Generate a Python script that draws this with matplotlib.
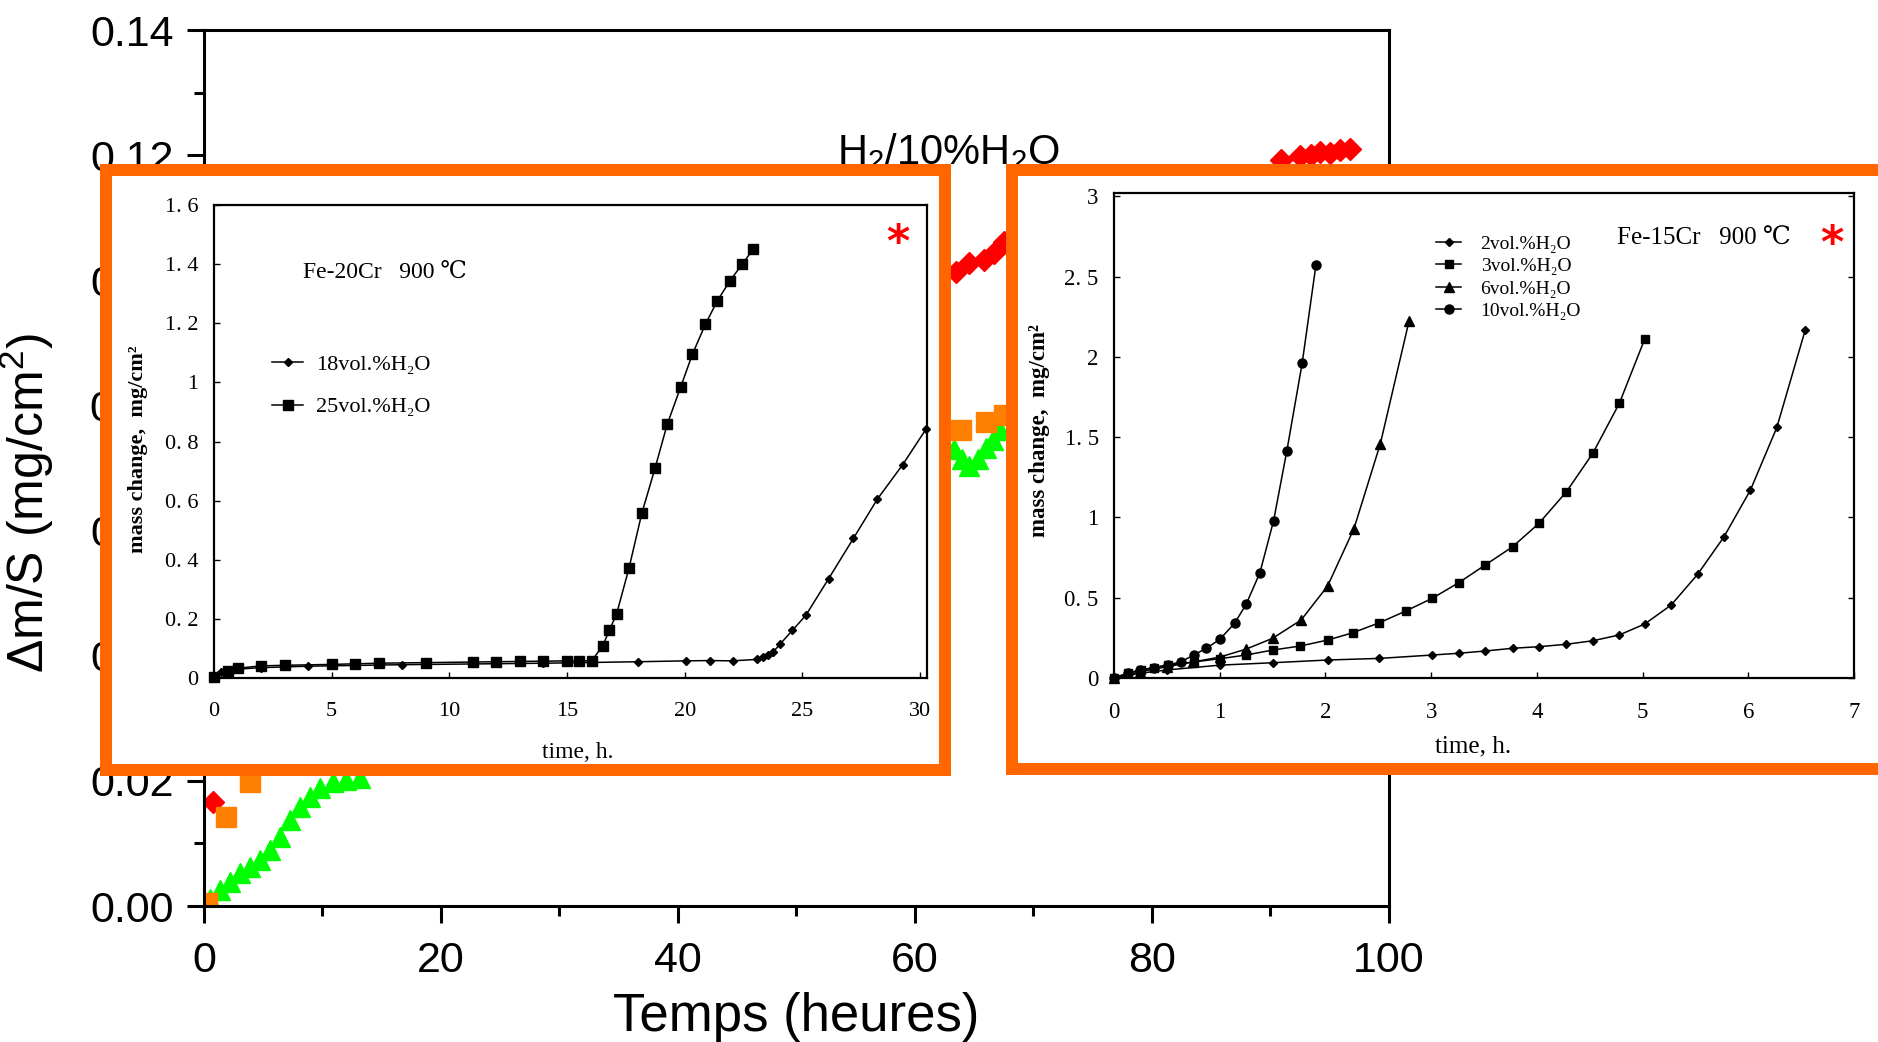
import matplotlib
matplotlib.use("Agg")
import matplotlib.pyplot as plt
from matplotlib.ticker import FixedLocator, MultipleLocator

plt.rcParams['font.family'] = ['Liberation Sans', 'DejaVu Sans']
plt.rcParams['mathtext.fontset'] = 'custom'
plt.rcParams['mathtext.rm'] = 'Liberation Sans'
plt.rcParams['mathtext.it'] = 'Liberation Sans:italic'
plt.rcParams['mathtext.bf'] = 'Liberation Sans:bold'

SERIF = ['Liberation Serif', 'DejaVu Serif', 'DejaVu Sans']

# main chart (only the parts not hidden by the two insets)
red_t = [0.79, 63.5, 64.6, 65.8, 66.7, 67.5, 90.9, 92.5, 93.4, 94.2, 95.0, 95.9, 96.7]
red_m = [0.0167, 0.1014, 0.1027, 0.1033, 0.1043, 0.1061,
         0.1192, 0.1198, 0.1200, 0.1205, 0.1203, 0.1209, 0.1210]
orange_t = [0.28, 1.86, 3.88, 63.9, 66.0, 67.5]
orange_m = [0.0005, 0.0143, 0.0199, 0.0761, 0.0774, 0.0785]
green_t = [0.5, 1.35, 2.2, 3.04, 3.88, 4.73, 5.57, 6.4, 7.26, 8.1, 8.95, 9.8, 10.9, 12.0, 13.2,
           63.3, 64.0, 64.6, 65.3, 66.0, 66.6, 67.2]
green_m = [0.0012, 0.0026, 0.0039, 0.0052, 0.0063, 0.0073, 0.0090, 0.0111, 0.0137, 0.0159,
           0.0175, 0.0188, 0.0199, 0.0201, 0.0204,
           0.0730, 0.0715, 0.0703, 0.0715, 0.0732, 0.0745, 0.0760]
main_xticks = [0, 20, 40, 60, 80, 100]
main_yticks = [0.00, 0.02, 0.04, 0.06, 0.08, 0.10, 0.12, 0.14]
main_ylabels = ['0.00', '0.02', '0.04', '0.06', '0.08', '0.10', '0.12', '0.14']

# left inset: Fe-20Cr 900 C
h18_t = [0, 0.3, 0.6, 1.0, 2.0, 4.0, 8.0, 14.0, 18.03, 20.05, 21.08, 22.04, 23.09, 23.34,
         23.56, 23.77, 24.05, 24.58, 25.15, 26.12, 27.17, 28.19, 29.27, 30.26]
h18_m = [0.0, 0.02, 0.025, 0.03, 0.035, 0.04, 0.045, 0.05, 0.055, 0.058, 0.059, 0.058, 0.063,
         0.07, 0.078, 0.089, 0.114, 0.161, 0.212, 0.336, 0.472, 0.605, 0.722, 0.842]
h25_t = [0, 0.6, 1.0, 2.0, 3.0, 5.0, 6.0, 7.0, 9.0, 11.0, 12.0, 13.0, 14.0, 15.01, 15.52,
         16.05, 16.52, 16.8, 17.11, 17.64, 18.18, 18.74, 19.26, 19.83, 20.33, 20.88, 21.39,
         21.93, 22.44, 22.92]
h25_m = [0.005, 0.025, 0.033, 0.041, 0.043, 0.046, 0.048, 0.05, 0.052, 0.054, 0.055, 0.056,
         0.057, 0.058, 0.058, 0.058, 0.109, 0.161, 0.217, 0.373, 0.557, 0.709, 0.858, 0.984,
         1.095, 1.196, 1.276, 1.344, 1.399, 1.451]
left_xticks = [0, 5, 10, 15, 20, 25, 30]
left_yticks = [0, 0.2, 0.4, 0.6, 0.8, 1.0, 1.2, 1.4, 1.6]
left_ylabels = ['0', '0. 2', '0. 4', '0. 6', '0. 8', '1', '1. 2', '1. 4', '1. 6']

# right inset: Fe-15Cr 900 C
v2_t = [0, 0.25, 0.5, 1.0, 1.5, 2.02, 2.51, 3.01, 3.26, 3.51, 3.77, 4.02, 4.28, 4.53, 4.78,
        5.02, 5.27, 5.52, 5.77, 6.02, 6.27, 6.54]
v2_m = [0, 0.03, 0.05, 0.08, 0.095, 0.112, 0.122, 0.143, 0.154, 0.168, 0.185, 0.195, 0.21,
        0.232, 0.268, 0.336, 0.454, 0.645, 0.879, 1.17, 1.56, 2.17]
v3_t = [0, 0.13, 0.26, 0.38, 0.51, 0.755, 1.0, 1.25, 1.5, 1.76, 2.02, 2.26, 2.51, 2.76, 3.01,
        3.26, 3.51, 3.77, 4.02, 4.28, 4.53, 4.78, 5.02]
v3_m = [0, 0.03, 0.05, 0.065, 0.08, 0.1, 0.12, 0.143, 0.174, 0.199, 0.236, 0.282, 0.344,
        0.417, 0.496, 0.593, 0.703, 0.817, 0.963, 1.16, 1.4, 1.71, 2.11]
v6_t = [0, 0.25, 0.5, 0.75, 1.0, 1.25, 1.5, 1.77, 2.02, 2.27, 2.52, 2.79]
v6_m = [0, 0.04, 0.07, 0.1, 0.13, 0.18, 0.247, 0.361, 0.572, 0.93, 1.46, 2.22]
v10_t = [0, 0.13, 0.25, 0.38, 0.51, 0.63, 0.755, 0.87, 1.0, 1.14, 1.25, 1.38, 1.51, 1.635,
         1.78, 1.91]
v10_m = [0, 0.03, 0.05, 0.065, 0.081, 0.1, 0.143, 0.184, 0.24, 0.34, 0.459, 0.655, 0.98,
         1.414, 1.96, 2.57]
right_xticks = [0, 1, 2, 3, 4, 5, 6, 7]
right_yticks = [0, 0.5, 1.0, 1.5, 2.0, 2.5, 3.0]
right_ylabels = ['0', '0. 5', '1', '1. 5', '2', '2. 5', '3']

fig = plt.figure(figsize=(18.78, 10.42), dpi=100)

# ---- main chart
ax = fig.add_axes([0.1086, 0.1305, 0.6310, 0.8407])
ax.plot(green_t, green_m, ls='none', marker='^', ms=15, color='#00FF00', mec='#00FF00')
ax.plot(red_t, red_m, ls='none', marker='D', ms=11, color='#FF0000', mec='#FF0000')
ax.plot(orange_t, orange_m, ls='none', marker='s', ms=14, color='#FF8000', mec='#FF8000')
ax.set_xlim(0, 100)
ax.set_ylim(0, 0.14)
ax.xaxis.set_major_locator(FixedLocator(main_xticks))
ax.xaxis.set_minor_locator(MultipleLocator(10))
ax.yaxis.set_major_locator(FixedLocator(main_yticks))
ax.set_yticklabels(main_ylabels)
ax.yaxis.set_minor_locator(MultipleLocator(0.01))
ax.tick_params(which='major', direction='out', length=12, width=2.2, labelsize=31, pad=10)
ax.tick_params(axis='x', which='major', pad=13)
ax.tick_params(which='minor', direction='out', length=7, width=2.2)
for sp in ax.spines.values():
    sp.set_linewidth(2.2)
ax.text(62.8, 0.1186, 'H$_2$/10%H$_2$O', fontsize=30, ha='center', va='baseline')
ax.set_xlabel('Temps (heures)', fontsize=38)
ax.xaxis.set_label_coords(0.5, -0.098)
ax.set_ylabel('Δm/S (mg/cm$^2$)', fontsize=36)
ax.yaxis.set_label_coords(-0.125, 0.46)


def orange_frame(rect):
    fr = fig.add_axes(rect)
    fr.set_facecolor('white')
    fr.set_xticks([])
    fr.set_yticks([])
    for sp in fr.spines.values():
        sp.set_color('#FF6600')
        sp.set_linewidth(8.6)
    return fr


def inset_style(a, xpad, ypad, labelsize):
    for sp in a.spines.values():
        sp.set_linewidth(1.6)
    a.tick_params(direction='in', length=4, width=1.0, labelsize=labelsize)
    a.tick_params(axis='x', pad=xpad)
    a.tick_params(axis='y', pad=ypad)
    for lab in a.get_xticklabels() + a.get_yticklabels():
        lab.set_fontfamily(SERIF)


# ---- left inset
orange_frame([0.05644, 0.26104, 0.44649, 0.57582])
ax1 = fig.add_axes([0.11395, 0.34933, 0.37966, 0.45393])
ax1.plot(h18_t, h18_m, color='black', lw=1.1, marker='D', ms=4, clip_on=False,
         label='18vol.%H\u2082O')
ax1.plot(h25_t, h25_m, color='black', lw=1.1, marker='s', ms=6.5, clip_on=False,
         label='25vol.%H\u2082O')
ax1.set_xlim(0, 30.3)
ax1.set_ylim(0, 1.6)
ax1.xaxis.set_major_locator(FixedLocator(left_xticks))
ax1.yaxis.set_major_locator(FixedLocator(left_yticks))
ax1.set_yticklabels(left_ylabels)
inset_style(ax1, 17, 11, 16)
ax1.set_xlabel('time, h.', fontsize=17, family=SERIF)
ax1.xaxis.set_label_coords(0.51, -0.135)
ax1.set_ylabel('mass change,  mg/cm²', fontsize=16, fontweight='bold', family=SERIF)
ax1.yaxis.set_label_coords(-0.093, 0.484)
ax1.text(0.125, 0.846, 'Fe-20Cr   900 \u2103', transform=ax1.transAxes, fontsize=17,
         family=SERIF)
ax1.text(0.959, 0.893, '*', transform=ax1.transAxes, fontsize=32, fontweight='bold',
         color='red', ha='center', va='baseline', family='DejaVu Sans')
ax1.legend(loc='upper left', bbox_to_anchor=(0.0813, 0.685), frameon=False,
           prop={'family': SERIF, 'size': 16}, handlelength=1.4, handletextpad=0.6,
           labelspacing=1.0, borderpad=0, borderaxespad=0)

# ---- right inset
orange_frame([0.53887, 0.26200, 0.47178, 0.57485])
ax2 = fig.add_axes([0.59318, 0.34933, 0.39404, 0.46545])
ax2.plot(v2_t, v2_m, color='black', lw=1.1, marker='D', ms=4, clip_on=False,
         label='2vol.%H\u2082O')
ax2.plot(v3_t, v3_m, color='black', lw=1.1, marker='s', ms=6, clip_on=False,
         label='3vol.%H\u2082O')
ax2.plot(v6_t, v6_m, color='black', lw=1.1, marker='^', ms=6.5, clip_on=False,
         label='6vol.%H\u2082O')
ax2.plot(v10_t, v10_m, color='black', lw=1.1, marker='o', ms=6.5, clip_on=False,
         label='10vol.%H\u2082O')
ax2.set_xlim(0, 7)
ax2.set_ylim(0, 3.02)
ax2.xaxis.set_major_locator(FixedLocator(right_xticks))
ax2.yaxis.set_major_locator(FixedLocator(right_yticks))
ax2.set_yticklabels(right_ylabels)
ax2.tick_params(axis='y', right=True)
inset_style(ax2, 17, 11, 16.5)
ax2.set_xlabel('time, h.', fontsize=18, family=SERIF)
ax2.xaxis.set_label_coords(0.485, -0.118)
ax2.set_ylabel('mass change,  mg/cm²', fontsize=16.5, fontweight='bold', family=SERIF)
ax2.yaxis.set_label_coords(-0.087, 0.51)
ax2.text(0.68, 0.894, 'Fe-15Cr   900 \u2103', transform=ax2.transAxes, fontsize=18,
         family=SERIF)
ax2.text(0.970, 0.869, '*', transform=ax2.transAxes, fontsize=32, fontweight='bold',
         color='red', ha='center', va='baseline', family='DejaVu Sans')
ax2.legend(loc='upper left', bbox_to_anchor=(0.435, 0.913), frameon=False,
           prop={'family': SERIF, 'size': 14}, handlelength=1.3, handletextpad=1.0,
           labelspacing=0.25, borderpad=0, borderaxespad=0)

fig.savefig('out.png', dpi=100)
